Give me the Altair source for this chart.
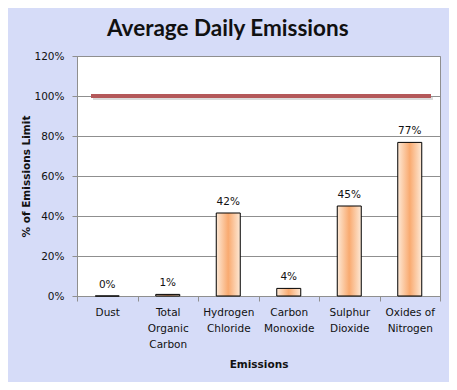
import altair as alt
import pandas as pd

categories = ["Dust", "Total\nOrganic\nCarbon", "Hydrogen\nChloride",
              "Carbon\nMonoxide", "Sulphur\nDioxide", "Oxides of\nNitrogen"]
values = [0.0, 0.008, 0.415, 0.038, 0.45, 0.768]
limit = [1.0]
y_ticks = [0, 0.2, 0.4, 0.6, 0.8, 1.0, 1.2]

df = pd.DataFrame({"cat": categories, "val": values})
lim = pd.DataFrame({"limit": limit})

FONT = "DejaVu Sans"
GRID = "#8f8f8f"

x_axis = alt.Axis(title="Emissions", labelExpr="split(datum.label, '\\n')",
                  labelAngle=0, labelFont=FONT, labelFontSize=10.5,
                  labelLineHeight=16, labelColor="#111", labelPadding=6,
                  labelBaseline="top",
                  tickBand="extent", tickColor=GRID, tickSize=5,
                  domainColor=GRID, titleFont=FONT, titleFontSize=10.5,
                  titleFontWeight="bold", titleColor="#111", titlePadding=8,
                  minExtent=55, maxExtent=55)
x_enc = alt.X("cat:N", sort=categories,
              scale=alt.Scale(paddingInner=0, paddingOuter=0), axis=x_axis)
y_scale = alt.Scale(domain=[0, 1.2], nice=False)
y_axis = alt.Axis(title="% of Emissions  Limit", format=".0%", values=y_ticks,
                  labelOverlap=False,
                  labelFont=FONT, labelFontSize=10.5, labelColor="#111", labelPadding=8,
                  tickColor=GRID, tickSize=5, domainColor=GRID,
                  gridColor=GRID, gridWidth=1,
                  titleFont=FONT, titleFontSize=10.5, titleFontWeight="bold",
                  titleColor="#111", titlePadding=5, minExtent=41, maxExtent=41)

grad = alt.LinearGradient(gradient="linear", x1=0, x2=1, y1=0, y2=0,
                          stops=[alt.GradientStop(offset=0, color="#fde9d6"),
                                 alt.GradientStop(offset=0.5, color="#f9aa70"),
                                 alt.GradientStop(offset=1, color="#fde9d6")])

base = alt.Chart(df)
bars = base.mark_bar(size=24, fill=grad, stroke="#000", strokeWidth=1).encode(
    x=x_enc, y=alt.Y("val:Q", scale=y_scale, axis=y_axis))
labels = base.mark_text(baseline="bottom", dy=-6, font=FONT, fontSize=10.5,
                        color="#111").encode(
    x=x_enc, y=alt.Y("val:Q", scale=y_scale, axis=y_axis),
    text=alt.Text("val:Q", format=".0%"))
shadow = alt.Chart(lim).mark_rule(color="#999", opacity=0.35, strokeWidth=4,
                                  yOffset=2).encode(
    y=alt.Y("limit:Q", scale=y_scale, axis=y_axis), x=alt.value(16), x2=alt.value(356))
line = alt.Chart(lim).mark_rule(color="#b4585a", strokeWidth=4).encode(
    y=alt.Y("limit:Q", scale=y_scale, axis=y_axis), x=alt.value(14), x2=alt.value(354))

chart = alt.layer(bars, shadow, line, labels).properties(
    width=441, height=374,
    autosize=alt.AutoSizeParams(type="fit", contains="padding"),
    padding={"left": 13, "top": 9, "right": 8, "bottom": 12},
    background="#d6dcf8",
    title=alt.TitleParams("Average Daily Emissions", font="Lato", fontSize=22.5,
                          fontWeight="bold", color="#111", anchor="middle",
                          frame="bounds", offset=11, dx=-3),
).configure_view(fill="white", stroke=GRID, strokeWidth=1)

chart.save("out.html", embed_options={"renderer": "svg", "actions": False})
